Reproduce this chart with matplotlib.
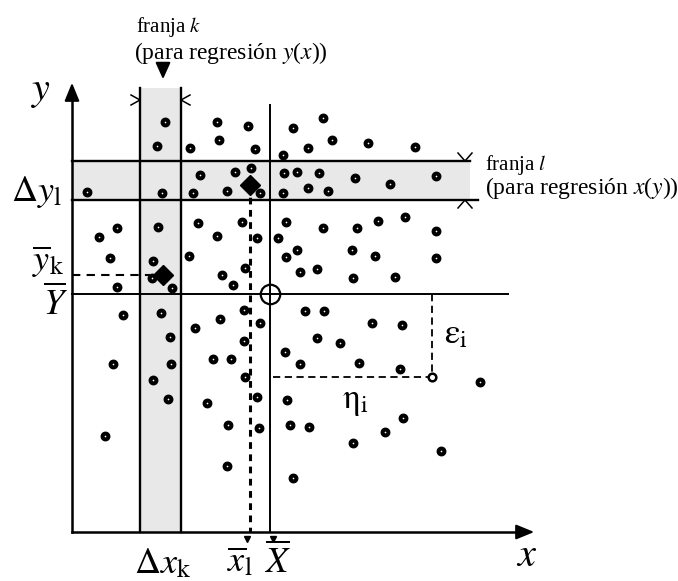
import matplotlib.pyplot as plt

# figure drawn in the picture's own pixel units (x right, y down)
W, H = 678, 581

# axes frame
x0, y0 = 72, 532            # origin
x_tip, y_tip = 537, 80      # arrow tips

# strip k (vertical, for regression y(x)) and strip l (horizontal, for x(y))
strip_k = (140, 181)
strip_k_top = 88
strip_l = (161, 200)
strip_l_end = (470, 478)

# means
X_mean, Y_mean = 270, 294
X_line_top, Y_line_end = 105, 508
xl_mean = (250, 185)        # diamond in strip l
yk_mean = (163, 275)        # diamond in strip k

# point i and its residuals
pt_i = (432, 377)

xs = [165, 157, 190, 217, 219, 248, 255, 293, 323, 332, 308, 283, 368, 415,
      87, 162, 200, 193, 235, 227, 251, 260, 284, 297, 319, 283, 308, 328, 355, 390, 436,
      117, 99, 110, 117, 158, 153, 152, 172, 198, 217, 189, 222, 233, 245, 242, 257,
      278, 286, 286, 297, 300, 317, 323, 352, 357, 378, 405, 436, 375, 436, 353, 395,
      123, 113, 105, 161, 170, 171, 153, 168, 195, 220, 244, 260, 244, 213, 231, 245,
      207, 257, 228, 259, 227, 293, 305, 324, 317, 340, 285, 300, 287, 290, 309, 372,
      402, 359, 400, 480, 403, 385, 353, 441]
ys = [122, 146, 148, 122, 140, 126, 149, 128, 118, 140, 148, 155, 143, 147,
      192, 193, 175, 193, 172, 191, 168, 193, 173, 172, 173, 193, 188, 191, 178, 184, 176,
      228, 237, 258, 287, 227, 261, 278, 288, 223, 236, 256, 275, 285, 268, 222, 238,
      238, 222, 257, 250, 272, 269, 228, 250, 228, 221, 217, 231, 256, 258, 278, 277,
      315, 364, 436, 313, 337, 364, 380, 399, 328, 319, 310, 323, 341, 359, 359, 377,
      403, 397, 425, 428, 466, 478, 311, 311, 338, 343, 352, 364, 400, 425, 427, 323,
      325, 363, 369, 382, 418, 432, 443, 451]

plt.rcParams['mathtext.fontset'] = 'stix'
plt.rcParams['font.family'] = 'Liberation Serif'

fig = plt.figure(figsize=(W / 100, H / 100), dpi=100)
ax = fig.add_axes([0, 0, 1, 1])
ax.set_xlim(0, W)
ax.set_ylim(H, 0)
ax.axis('off')

SHADE = '#e8e8e8'
K = 'black'

# shaded strips
ax.fill_between(strip_k, strip_k_top, y0, color=SHADE, lw=0, zorder=1)
ax.fill_between([x0, strip_l_end[0]], strip_l[0], strip_l[1], color=SHADE, lw=0, zorder=1)

# strip borders
for xv in strip_k:
    ax.plot([xv, xv], [strip_k_top, y0], color=K, lw=1.7, zorder=2)
ax.plot([x0, strip_l_end[0]], [strip_l[0]] * 2, color=K, lw=1.7, zorder=2)
ax.plot([x0, strip_l_end[1]], [strip_l[1]] * 2, color=K, lw=1.7, zorder=2)

# little chevrons marking strip widths
ch = dict(color=K, lw=1.1, zorder=3)
ax.plot([strip_k[0] - 9, strip_k[0], strip_k[0] - 9], [95, 100, 105], **ch)
ax.plot([strip_k[1] + 9, strip_k[1], strip_k[1] + 9], [95, 100, 105], **ch)
ax.plot([458, 465, 472], [153, strip_l[0], 153], **ch)
ax.plot([458, 465, 472], [208, strip_l[1], 208], **ch)

# mean lines
ax.plot([x0, Y_line_end], [Y_mean, Y_mean], color=K, lw=1.4, zorder=2)
ax.plot([X_mean, X_mean], [X_line_top, y0], color=K, lw=1.4, zorder=2)
ax.plot(X_mean, Y_mean, 'o', ms=14, mfc='none', mec=K, mew=1.6, zorder=4)

# conditional means and their dashed projections
ax.plot([xl_mean[0]] * 2, [xl_mean[1], y0], color=K, lw=2.2,
        dashes=(2.2, 1.8), zorder=2)
ax.plot([x0, strip_k[0] + 10], [yk_mean[1]] * 2, color=K, lw=1.5,
        dashes=(4, 3), zorder=2)
ax.plot(*zip(xl_mean, yk_mean), 'D', ms=10, color=K, ls='none', zorder=5)

# residuals of point i
ax.plot([pt_i[0]] * 2, [Y_mean, pt_i[1]], color=K, lw=1.3, dashes=(4, 2.5), zorder=2)
ax.plot([X_mean + 3, pt_i[0]], [pt_i[1]] * 2, color=K, lw=1.3, dashes=(4, 2.5), zorder=2)

# data points
ax.plot(xs, ys, 'o', ls='none', ms=4.2, mfc='white', mec=K, mew=2.9, zorder=4)
ax.plot(*pt_i, 'o', ms=5.5, mfc='white', mec=K, mew=1.8, zorder=4)

# axes with arrows
ax.plot([x0, x0], [y0, y_tip + 10], color=K, lw=1.8, zorder=3)
ax.plot([x0, x_tip - 10], [y0, y0], color=K, lw=1.8, zorder=3)
ax.annotate('', xy=(x0, y_tip), xytext=(x0, y_tip + 20),
            arrowprops=dict(arrowstyle='-|>,head_length=1.1,head_width=0.45',
                            color=K, lw=1.5))
ax.annotate('', xy=(x_tip, y0), xytext=(x_tip - 20, y0),
            arrowprops=dict(arrowstyle='-|>,head_length=1.1,head_width=0.45',
                            color=K, lw=1.5))
# small ticks below the axis at the means
ax.plot([xl_mean[0] - 3, X_mean + 3], [539, 539], 'v', ls='none', ms=4, color=K)

# arrow pointing at strip k
ax.annotate('', xy=(163, 82), xytext=(163, 64),
            arrowprops=dict(arrowstyle='-|>,head_length=1.0,head_width=0.45',
                            color=K, lw=1.5))

# texts
ax.text(169, 27, 'franja $k$', fontsize=15, ha='center', va='center')
ax.text(231, 53, '(para regresión $y$($x$))', fontsize=17, ha='center', va='center')
ax.text(485, 165, 'franja $l$', fontsize=15, ha='left', va='center')
ax.text(485, 188, '(para regresión $x$($y$))', fontsize=17, ha='left', va='center')

ax.text(41, 92, '$y$', fontsize=29, ha='center', va='center')
ax.text(527, 556, '$x$', fontsize=29, ha='center', va='center')
ax.text(36, 192, r'$\Delta y_{\mathrm{l}}$', fontsize=26, ha='center', va='center')
ax.text(48, 262, r'$\overline{y}_{\mathrm{k}}$', fontsize=26, ha='center', va='center')
ax.text(55, 304, r'$\overline{Y}$', fontsize=26, ha='center', va='center')
ax.text(162, 564, r'$\Delta x_{\mathrm{k}}$', fontsize=26, ha='center', va='center')
ax.text(240, 562, r'$\overline{x}_{\mathrm{l}}$', fontsize=26, ha='center', va='center')
ax.text(277, 562, r'$\overline{X}$', fontsize=26, ha='center', va='center')
ax.text(456, 335, r'$\mathrm{\varepsilon}_{\mathrm{i}}$', fontsize=25, ha='center', va='center')
ax.text(355, 401, r'$\mathrm{\eta}_{\mathrm{i}}$', fontsize=25, ha='center', va='center')

fig.savefig('out.png', dpi=100, facecolor='white')
